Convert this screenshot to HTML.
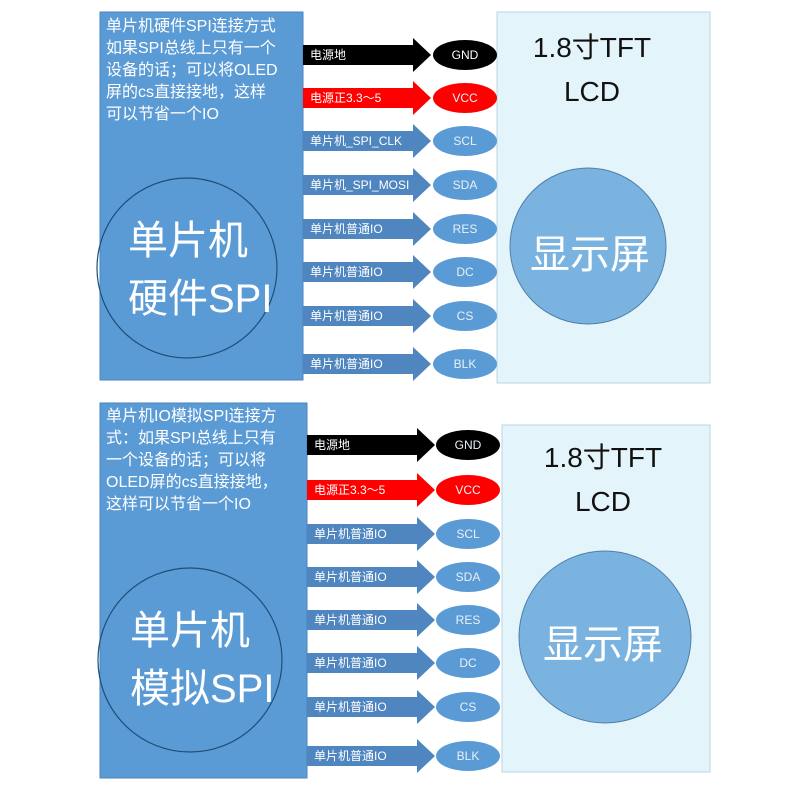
<!DOCTYPE html>
<html><head><meta charset="utf-8"><style>
body{margin:0;background:#fff;width:800px;height:800px;overflow:hidden;position:relative;font-family:"Liberation Sans","Noto Sans CJK SC",sans-serif}
.t{position:absolute;white-space:nowrap}
</style></head><body>
<svg width="800" height="800" style="position:absolute;left:0;top:0">
<!-- top -->
<rect x="100" y="12" width="203" height="368" fill="#5b9bd5" stroke="#4a86c0"/>
<rect x="497" y="12" width="213" height="371" fill="#e4f4fb" stroke="#b8d4e4"/>
<circle cx="187" cy="268" r="90" fill="none" stroke="#1f4e79" stroke-width="1.2"/>
<circle cx="588" cy="246" r="78" fill="#7ab3df" stroke="#4f7fa8"/>
<!-- bottom -->
<rect x="100" y="403" width="207" height="375" fill="#5b9bd5" stroke="#4a86c0"/>
<rect x="502" y="425" width="208" height="347" fill="#e4f4fb" stroke="#b8d4e4"/>
<circle cx="190" cy="660" r="92" fill="none" stroke="#1f4e79" stroke-width="1.2"/>
<circle cx="605" cy="637" r="86" fill="#7ab3df" stroke="#4f7fa8"/>
<g id="arrows"></g>
</svg>
<script>
var ns="http://www.w3.org/2000/svg",g=document.getElementById("arrows");
function row(x0,y,col,ecol,ex){
 var p=document.createElementNS(ns,"polygon");
 var sx=x0+110,tip=x0+128;
 p.setAttribute("points",x0+","+(y-10)+" "+sx+","+(y-10)+" "+sx+","+(y-17)+" "+tip+","+y+" "+sx+","+(y+17)+" "+sx+","+(y+10)+" "+x0+","+(y+10));
 p.setAttribute("fill",col);g.appendChild(p);
 var e=document.createElementNS(ns,"ellipse");
 e.setAttribute("cx",ex);e.setAttribute("cy",y);e.setAttribute("rx",32);e.setAttribute("ry",15);e.setAttribute("fill",ecol);g.appendChild(e);
}
var ty=[55,98,141,185,229,272,316,364],by=[445,490,534,577,620,663,707,756];
var cols=["#000","#f00","#4f86bf","#4f86bf","#4f86bf","#4f86bf","#4f86bf","#4f86bf"];
var ecs=["#000","#f00","#5b9bd5","#5b9bd5","#5b9bd5","#5b9bd5","#5b9bd5","#5b9bd5"];
for(var i=0;i<8;i++){row(303,ty[i],cols[i],ecs[i],465);row(307,by[i],cols[i],ecs[i],468);}
</script>
<div class="t" style="left:106px;top:16px;color:#fff;font-size:16px;line-height:22px;white-space:normal;width:196px">单片机硬件SPI连接方式<br>如果SPI总线上只有一个<br>设备的话；可以将OLED<br>屏的cs直接接地，这样<br>可以节省一个IO</div>
<div class="t" style="left:128px;top:212px;color:#fff;font-size:40px;line-height:58px">单片机<br>硬件SPI</div>
<div class="t" style="left:527px;top:26px;color:#111;font-size:28px;line-height:44px;text-align:center;width:130px">1.8寸TFT<br>LCD</div>
<div class="t" style="left:530px;top:222px;color:#fff;font-size:40px">显示屏</div>

<div class="t" style="left:106px;top:406px;color:#fff;font-size:16px;line-height:22px;white-space:normal;width:200px">单片机IO模拟SPI连接方<br>式：如果SPI总线上只有<br>一个设备的话；可以将<br>OLED屏的cs直接接地，<br>这样可以节省一个IO</div>
<div class="t" style="left:130px;top:602px;color:#fff;font-size:40px;line-height:58px">单片机<br>模拟SPI</div>
<div class="t" style="left:538px;top:436px;color:#111;font-size:28px;line-height:44px;text-align:center;width:130px">1.8寸TFT<br>LCD</div>
<div class="t" style="left:543px;top:612px;color:#fff;font-size:40px">显示屏</div>
<div id="labels"></div>
<script>
var L=document.getElementById("labels");
var tl=["电源地","电源正3.3～5","单片机_SPI_CLK","单片机_SPI_MOSI","单片机普通IO","单片机普通IO","单片机普通IO","单片机普通IO"];
var bl=["电源地","电源正3.3～5","单片机普通IO","单片机普通IO","单片机普通IO","单片机普通IO","单片机普通IO","单片机普通IO"];
var en=["GND","VCC","SCL","SDA","RES","DC","CS","BLK"];
function add(x,y,txt,w,c,fs){var d=document.createElement("div");d.className="t";d.style.cssText="left:"+x+"px;top:"+(y-9)+"px;font-size:"+fs+"px;line-height:18px;color:"+(c||"#fff")+";"+(w?"width:"+w+"px;text-align:center;":"");d.textContent=txt;L.appendChild(d);}
for(var i=0;i<8;i++){
 add(310,ty[i],tl[i],0,"#fff",12);add(433,ty[i],en[i],64,i==0?"#fff":"#e8f0f8",12);
 add(314,by[i],bl[i],0,"#fff",12);add(436,by[i],en[i],64,"#e8f0f8",12);
}
</script>
</body></html>
